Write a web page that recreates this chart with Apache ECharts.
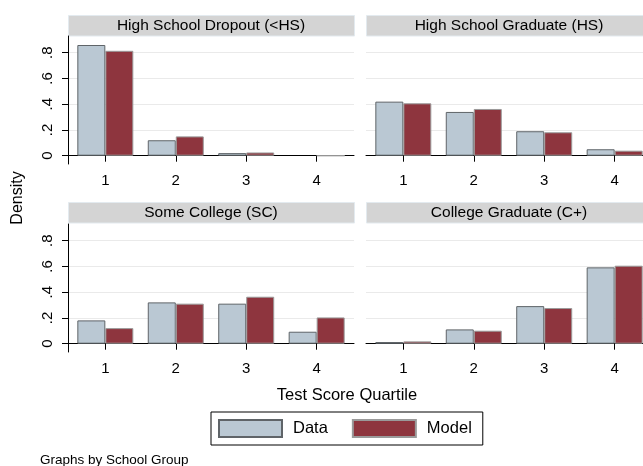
<!DOCTYPE html>
<html>
<head>
<meta charset="utf-8">
<script src="https://cdn.jsdelivr.net/npm/echarts@6/dist/echarts.min.js"></script>
<style>
  html, body { margin: 0; padding: 0; background: #fff; }
  #chart { width: 643px; height: 466px; }
</style>
</head>
<body>
<div id="chart"></div>
<script>
// Test score quartile distribution by school group: observed data vs. model
const quartiles = [1, 2, 3, 4];
const yTicks = [0, 0.2, 0.4, 0.6, 0.8];
const groups = ['High School Dropout (<HS)', 'High School Graduate (HS)', 'Some College (SC)', 'College Graduate (C+)'];

const dropoutData  = [0.86, 0.12, 0.02, null];
const dropoutModel = [0.815, 0.15, 0.025, 0];
const hsGradData   = [0.42, 0.34, 0.19, 0.05];
const hsGradModel  = [0.407, 0.363, 0.182, 0.039];
const someColData  = [0.181, 0.321, 0.311, 0.093];
const someColModel = [0.121, 0.311, 0.365, 0.204];
const colGradData  = [0.013, 0.111, 0.292, 0.593];
const colGradModel = [0.018, 0.101, 0.277, 0.606];

const dataSets = [
  [dropoutData, dropoutModel],
  [hsGradData, hsGradModel],
  [someColData, someColModel],
  [colGradData, colGradModel]
];

const FONT = '"Liberation Sans", Arial, Helvetica, sans-serif';
const DATA_COLOR = '#bac8d3';
const MODEL_COLOR = '#8e353e';

// panel layout (pixels); right-hand panels run past the canvas edge,
// so their grid is cut at the edge and the x range shortened to keep the same scale
const CANVAS_W = 643;
const PW = 286, PH = 128, HEAD_H = 20.5;
const X_MIN = 0.47, X_MAX = 4.53;
const PX_PER_UNIT = PW / (X_MAX - X_MIN);
const panels = [
  { left: 68,  top: 36,  headTop: 15 },
  { left: 366, top: 36,  headTop: 15 },
  { left: 68,  top: 224, headTop: 202 },
  { left: 366, top: 224, headTop: 202 }
];

const fmtTick = v => v === 0 ? '0' : String(v).replace(/^0/, '');

const grids = [], xAxes = [], yAxes = [], series = [], graphics = [];

panels.forEach((p, i) => {
  const gw = Math.min(PW, CANVAS_W - p.left);
  grids.push({ left: p.left, top: p.top, width: gw, height: PH, containLabel: false });
  xAxes.push({
    gridIndex: i, type: 'value', min: X_MIN, max: X_MIN + gw / PX_PER_UNIT,
    axisLine: { show: true, lineStyle: { color: '#000', width: 1 } },
    axisTick: { show: true, length: 6, customValues: quartiles, lineStyle: { color: '#000' } },
    axisLabel: { customValues: quartiles, margin: 9, fontFamily: FONT, fontSize: 15, color: '#000',
      formatter: v => String(v) },
    splitLine: { show: false }
  });
  yAxes.push({
    gridIndex: i, type: 'value', min: -0.0645, max: 0.93,
    axisLine: { show: i % 2 === 0, lineStyle: { color: '#000', width: 1 } },
    axisTick: { show: i % 2 === 0, length: 6, customValues: yTicks, lineStyle: { color: '#000' } },
    axisLabel: { show: i % 2 === 0, customValues: yTicks, rotate: 90, margin: 13,
      fontFamily: FONT, fontSize: 15, color: '#000', formatter: fmtTick },
    splitLine: { show: true, lineStyle: { color: '#eaeaea', width: 1 } }
  });
  const [d, m] = dataSets[i];
  series.push({
    name: 'Data', type: 'bar', xAxisIndex: i, yAxisIndex: i,
    barWidth: 28, barGap: '0%', clip: false,
    itemStyle: { color: DATA_COLOR, borderColor: '#5f6468', borderWidth: 1 },
    data: quartiles.map((q, k) => [q, d[k]])
  });
  series.push({
    name: 'Model', type: 'bar', xAxisIndex: i, yAxisIndex: i,
    barWidth: 28, barGap: '0%', clip: false,
    itemStyle: { color: MODEL_COLOR, borderColor: '#9a9a9a', borderWidth: 1 },
    data: quartiles.map((q, k) => [q, m[k]])
  });
  // panel header strip
  graphics.push({
    type: 'rect', left: p.left, top: p.headTop,
    shape: { width: PW, height: HEAD_H },
    style: { fill: '#d4d4d4', stroke: '#e3eaef', lineWidth: 1 }, silent: true
  });
  graphics.push({
    type: 'text', x: p.left + PW / 2, y: p.headTop + HEAD_H / 2 + 0.5,
    style: { text: groups[i], fontFamily: FONT, fontSize: 15.5, fill: '#000',
      align: 'center', verticalAlign: 'middle' }, silent: true
  });
});

graphics.push({
  type: 'text', x: 18, y: 198, rotation: Math.PI / 2,
  style: { text: 'Density', fontFamily: FONT, fontSize: 16, fill: '#000',
    align: 'center', verticalAlign: 'middle' }
});
graphics.push({
  type: 'text', x: 347, y: 395,
  style: { text: 'Test Score Quartile', fontFamily: FONT, fontSize: 16.5, fill: '#000',
    align: 'center', verticalAlign: 'middle' }
});
graphics.push({
  type: 'text', x: 40, y: 460,
  style: { text: 'Graphs by School Group', fontFamily: FONT, fontSize: 13.5, fill: '#000',
    align: 'left', verticalAlign: 'middle' }
});

const chart = echarts.init(document.getElementById('chart'), null, { renderer: 'canvas' });
chart.setOption({
  animation: false,
  backgroundColor: '#fff',
  grid: grids,
  xAxis: xAxes,
  yAxis: yAxes,
  legend: {
    data: ['Data', 'Model'],
    left: 211, top: 412,
    orient: 'horizontal',
    icon: 'rect',
    itemWidth: 63, itemHeight: 17, itemGap: 24,
    padding: [7, 11, 7, 7],
    borderColor: '#000', borderWidth: 1,
    selectedMode: false,
    textStyle: { fontFamily: FONT, fontSize: 16.5, color: '#000', padding: [0, 0, 0, 6] }
  },
  graphic: graphics,
  series: series
});
</script>
</body>
</html>
